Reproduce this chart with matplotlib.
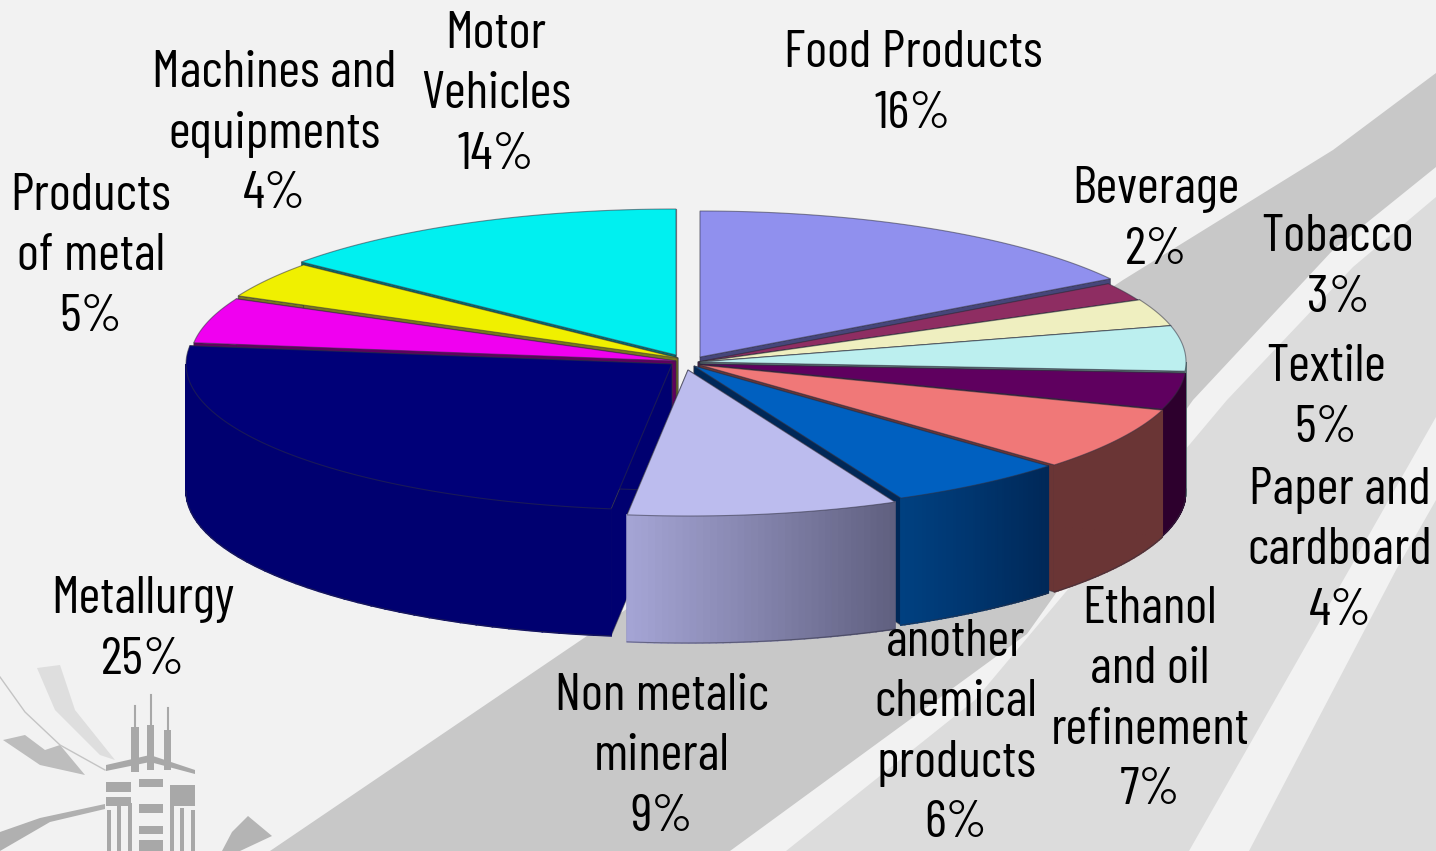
import matplotlib
matplotlib.use('Agg')
import matplotlib.pyplot as plt
from matplotlib.patches import Polygon, Rectangle
from matplotlib.colors import to_rgb
import numpy as np

# values
names = ["Food Products", "Beverage", "Tobacco", "Textile", "Paper and\ncardboard",
         "Ethanol\nand oil\nrefinement", "another\nchemical\nproducts", "Non metalic\nmineral",
         "Metallurgy", "Products\nof metal", "Machines and\nequipments", "Motor\nVehicles"]
values = [16, 2, 3, 5, 4, 7, 6, 9, 25, 5, 4, 14]

top_colors = ["#9090ee", "#8e2d62", "#efefc0", "#bcefef", "#5f005f", "#f07878",
              "#0060c0", "#bcbcee", "#000078", "#f000f0", "#f0f000", "#00f0f0"]
wall_colors = ["#46467a", "#4a1840", "#77775f", "#5e7777", "#2d002d", "#6a3535",
               "#002858", "#606080", "#000070", "#5f005f", "#78781e", "#007070"]
wall_left = {6: "#004080", 7: "#a4a4d4"}  # these two walls fade sideways

# how far each slice is pulled out of the pie, in pixels
pull = [(0, -5), (-2, 0), (0, 0), (0, 0), (0, 2), (0, 3), (-6, 4), (-12, 8),
        (-28, 2), (-24, -1), (-22, -4), (-24, -7)]
draw_order = [11, 10, 9, 0, 1, 2, 3, 4, 5, 6, 8, 7]

label_pos = [(913, 84), (1156, 220), (1338, 268), (1326, 398), (1340, 551), (1150, 700),
             (956, 733), (662, 757), (143, 630), (91, 257), (274, 134), (496, 95)]

cx, cy, rx, ry, depth = 700, 362, 486, 146, 127

plt.rcParams['font.family'] = ['Barlow Condensed', 'Roboto Condensed', 'Liberation Sans', 'DejaVu Sans']

fig = plt.figure(figsize=(14.36, 8.51), dpi=100, facecolor='#f2f2f2')
ax = fig.add_axes([0, 0, 1, 1])
ax.set_xlim(0, 1436)
ax.set_ylim(851, 0)
ax.axis('off')

# background bands
ax.add_patch(Polygon([(270, 851), (640, 600), (1123, 280), (1333, 150), (1436, 73), (1436, 167),
                      (1333, 250), (1193, 400), (1027, 634), (730, 851)], fc='#c8c8c8', ec='none'))
ax.add_patch(Polygon([(786, 851), (975, 700), (1227, 400), (1353, 267), (1436, 197), (1436, 851)],
                     fc='#dcdcdc', ec='none'))
ax.add_patch(Polygon([(1189, 851), (1349, 570), (1436, 417), (1436, 500), (1396, 570), (1249, 851)],
                     fc='#f2f2f2', ec='none'))

# logo in the corner
gray = '#a8a8a8'
for x0, w, y0, h in [(131, 8, 727, 45), (147, 7, 725, 45), (164, 7, 730, 40),
                     (106, 25, 782, 10), (106, 25, 797, 9), (139, 24, 779, 8), (139, 24, 804, 9),
                     (139, 24, 826, 8), (139, 24, 840, 11), (170, 25, 785, 12), (170, 25, 797, 9),
                     (107, 4, 810, 41), (117, 4, 806, 45), (128, 4, 803, 48),
                     (170, 4, 803, 48), (180, 4, 808, 43), (191, 4, 810, 41)]:
    ax.add_patch(Rectangle((x0, y0), w, h, fc=gray, ec='none'))
ax.plot([135, 135], [706, 730], color=gray, lw=1.5)
ax.plot([151, 151], [695, 730], color=gray, lw=1.5)
ax.plot([168, 168], [708, 732], color=gray, lw=1.5)
ax.add_patch(Polygon([(106, 765), (150, 755), (195, 770), (195, 774), (150, 762), (106, 771)], fc=gray, ec='none'))
ax.add_patch(Polygon([(0, 832), (40, 818), (105, 804), (105, 809), (50, 822), (0, 851)], fc='#b0b0b0', ec='none'))
ax.add_patch(Polygon([(37, 668), (60, 665), (75, 710), (115, 760), (100, 755), (55, 710)], fc='#dedede', ec='none'))
ax.add_patch(Polygon([(3, 740), (25, 735), (45, 750), (60, 745), (85, 775), (40, 765)], fc='#bdbdbd', ec='none'))
ax.plot([0, 25, 60, 105], [677, 712, 745, 770], color='#c4c4c4', lw=1)
ax.add_patch(Polygon([(232, 832), (248, 816), (272, 836), (240, 851), (222, 851)], fc='#b4b4b4', ec='none'))

fracs = np.array(values) / sum(values) * 2 * np.pi
ends = np.cumsum(fracs)
starts = ends - fracs


def rim(t, dx, dy, down=0):
    return cx + dx + rx * np.sin(t), cy + dy - ry * np.cos(t) + down


edge = dict(ec='#30304088', lw=0.8)

for i in draw_order:
    dx, dy = pull[i]
    tip = (cx + dx, cy + dy)
    tip_low = (cx + dx, cy + dy + depth)
    # flat sides that run in to the middle
    for t in (starts[i], ends[i]):
        ax.add_patch(Polygon([tip, rim(t, dx, dy), rim(t, dx, dy, depth), tip_low],
                             fc=wall_colors[i], **edge))
    # curved outer wall, only the front half shows
    a = max(starts[i], np.pi / 2)
    b = min(ends[i], 3 * np.pi / 2)
    if b > a:
        ts = np.linspace(a, b, 41)
        right = np.array(to_rgb(wall_colors[i]))
        left = np.array(to_rgb(wall_left.get(i, wall_colors[i])))
        for k in range(40):
            mix = k / 39
            col = right * (1 - mix) + left * mix
            ax.add_patch(Polygon([rim(ts[k], dx, dy), rim(ts[k + 1], dx, dy),
                                  rim(ts[k + 1], dx, dy, depth), rim(ts[k], dx, dy, depth)],
                                 fc=col, ec=col, lw=1.2))
        xs, ys = rim(ts, dx, dy, depth)
        ax.plot(xs, ys, color='#30304088', lw=0.8)
    # top of the slice
    ts = np.linspace(starts[i], ends[i], 80)
    xs, ys = rim(ts, dx, dy)
    ax.add_patch(Polygon([tip] + list(zip(xs, ys)), fc=top_colors[i], **edge))

for name, v, (x, y) in zip(names, values, label_pos):
    ax.text(x, y, f"{name}\n{v}%", ha='center', va='center', fontsize=38,
            linespacing=1.36, color='black')

fig.savefig('out.png', dpi=100, facecolor=fig.get_facecolor())
